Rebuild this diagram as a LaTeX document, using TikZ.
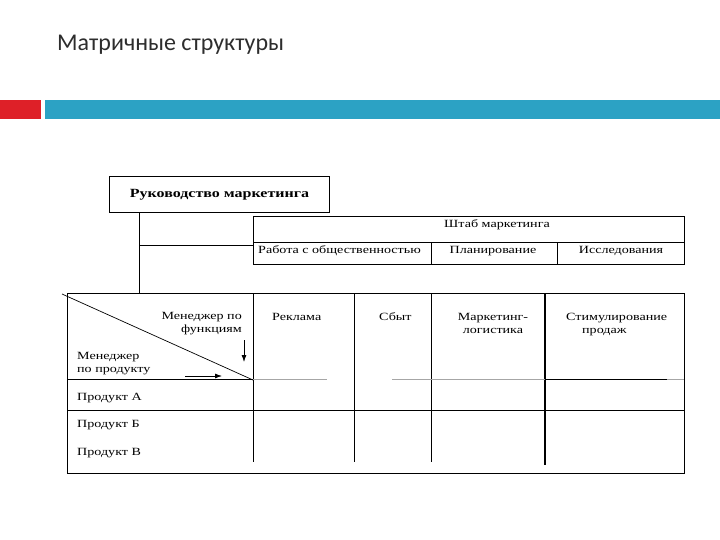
\documentclass[tikz,border=0pt]{standalone}
\usepackage{fontspec}
\setmainfont{Liberation Serif}
\newfontfamily\cellfont[FakeStretch=1.28]{Liberation Serif}
\newfontfamily\titlefont{Carlito}
\usetikzlibrary{arrows.meta}
\definecolor{barred}{RGB}{222,32,40}
\definecolor{barblue}{RGB}{44,162,196}
\definecolor{titlegray}{RGB}{45,45,45}
\tikzset{
  celltext/.style={inner sep=0pt, font=\cellfont\fontsize{11}{13}\selectfont},
  gridline/.style={line width=0.8pt},
  faintline/.style={line width=0.6pt, gray!70},
  pointer/.style={line width=0.8pt, -{Latex[length=7pt,width=5pt]}}
}
\begin{document}
\begin{tikzpicture}[x=1pt,y=-1pt]
  \useasboundingbox (0,0) rectangle (720,540);
  % title and bars
  \node [anchor=base west, inner sep=0pt, text=titlegray, font=\titlefont\fontsize{24}{28}\selectfont] (title) at (57,51) {Матричные структуры};
  \fill [barred] (0,100) rectangle (41,119);
  \fill [barblue] (45,100) rectangle (720,119);
  % top box
  \node [draw, gridline, minimum width=220pt, minimum height=36pt, inner sep=0pt, font=\cellfont\bfseries\fontsize{12.5}{14}\selectfont] (ruk) at (219.5,194.5) {Руководство маркетинга};
  % staff box
  \coordinate (stafftl) at (253,216);
  \coordinate (staffbr) at (684,264);
  \draw [gridline] (stafftl) rectangle (staffbr);
  \draw [gridline] (253,242) -- (684,242);
  \draw [gridline] (431,242) -- (431,264);
  \draw [gridline] (557,242) -- (557,264);
  \node [celltext, anchor=base] (shtab) at (497,227) {Штаб маркетинга};
  \node [celltext, anchor=base west] (pr) at (258,253) {Работа с общественностью};
  \node [celltext, anchor=base] (plan) at (493,253) {Планирование};
  \node [celltext, anchor=base] (issl) at (621,253) {Исследования};
  % matrix frame
  \coordinate (mtl) at (67,293);
  \coordinate (mbr) at (684,473);
  \draw [gridline] (mtl) rectangle (mbr);
  % links from the top box
  \coordinate (trunk) at ([xshift=30.5pt]ruk.south west);
  \draw [gridline] (trunk) -- (trunk |- mtl);
  \draw [gridline] (trunk |- 0,245) -- (stafftl |- 0,245);
  % columns
  \foreach \cx in {253,354,431}
    \draw [gridline] (\cx,293) -- (\cx,462);
  \draw [line width=1.6pt] (545,293) -- (545,465);
  % rows
  \draw [gridline] (67,379) -- (253,379);
  \draw [faintline] (253,379) -- (327,379);
  \draw [faintline] (392,379) -- (545,379);
  \draw [gridline] (545,379) -- (667,379);
  \draw [faintline] (667,379) -- (684,379);
  \draw [gridline] (67,410) -- (684,410);
  % corner cell
  \draw [line width=0.7pt] (62,294) -- (253,380);
  \node [celltext, anchor=base east, align=right] (mfunc) at (242,332) {Менеджер по\\функциям};
  \node [celltext, anchor=base west, align=left] (mprod) at (77,372) {Менеджер\\по продукту};
  \draw [pointer] (244,340) -- (244,362);
  \draw [pointer] (185,376) -- (222,376);
  % column heads
  \node [celltext, anchor=base west] (rekl) at (272,320) {Реклама};
  \node [celltext, anchor=base west] (sbyt) at (379,320) {Сбыт};
  \node [celltext, anchor=base, align=center] (logist) at (493,333) {Маркетинг-\\логистика};
  \node [celltext, anchor=base west, align=left] (stim) at (566,333) {Стимулирование\\\hspace*{16pt}продаж};
  % row heads
  \node [celltext, anchor=base west] (prodA) at (77,400) {Продукт А};
  \node [celltext, anchor=base west] (prodB) at (77,427) {Продукт Б};
  \node [celltext, anchor=base west] (prodC) at (77,455) {Продукт В};
\end{tikzpicture}
\end{document}
